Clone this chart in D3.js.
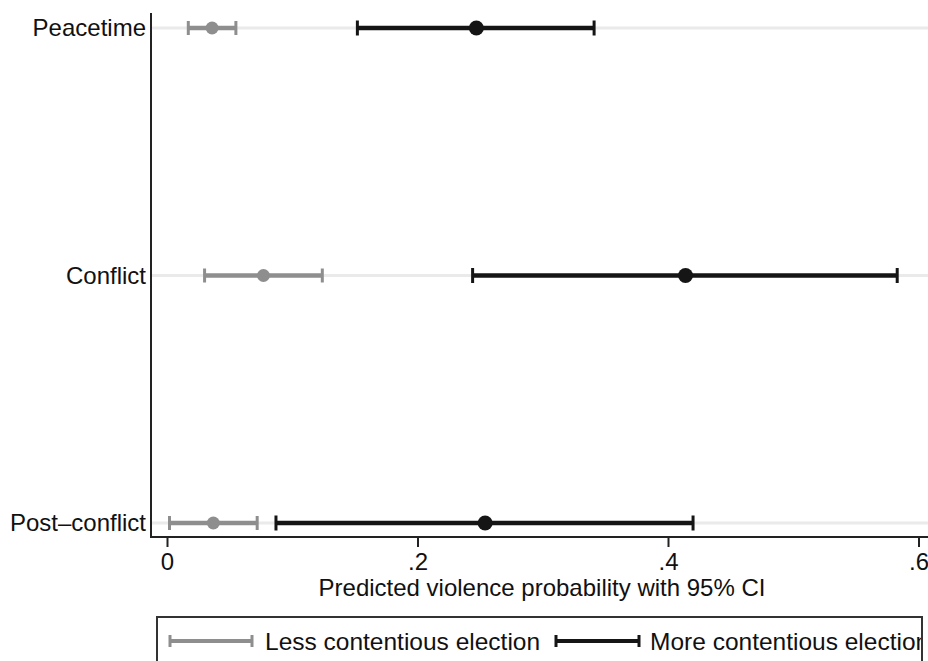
<!DOCTYPE html>
<html>
<head>
<meta charset="utf-8">
<script src="https://cdn.jsdelivr.net/npm/d3@7"></script>
<style>
  body { margin: 0; background: #fff; }
  text { font-family: "Liberation Sans", Arial, sans-serif; fill: #111; }
</style>
</head>
<body>
<div id="chart"></div>
<script>
// data
var categories = ["Peacetime", "Conflict", "Post\u2013conflict"];
var lessEst = [0.036, 0.077, 0.037];
var lessLo  = [0.017, 0.030, 0.002];
var lessHi  = [0.055, 0.124, 0.072];
var moreEst = [0.247, 0.414, 0.254];
var moreLo  = [0.152, 0.244, 0.087];
var moreHi  = [0.341, 0.583, 0.420];
var xTicks  = [0, 0.2, 0.4, 0.6];
var seriesNames = ["Less contentious election", "More contentious election"];

var width = 928, height = 661;
var plotLeft = 151, plotTop = 13, plotBottom = 537;

var svg = d3.select("#chart").append("svg")
    .attr("width", width)
    .attr("height", height);

// scales
var x = d3.scaleLinear().domain([0, 0.6]).range([167, 918.5]);
var y = d3.scalePoint().domain(categories).range([28, 523]);

// gridlines
svg.append("g").selectAll("line")
    .data(categories)
  .enter().append("line")
    .attr("x1", plotLeft).attr("x2", width)
    .attr("y1", function(d) { return y(d); })
    .attr("y2", function(d) { return y(d); })
    .attr("stroke", "#eaeaea")
    .attr("stroke-width", 3);

// build series
function makeSeries(est, lo, hi) {
  return categories.map(function(c, i) {
    return {cat: c, est: est[i], lo: lo[i], hi: hi[i]};
  });
}
var series = [
  {name: seriesNames[0], color: "#8e8e8e", r: 6.5, capH: 14, data: makeSeries(lessEst, lessLo, lessHi)},
  {name: seriesNames[1], color: "#151515", r: 7.5, capH: 15, data: makeSeries(moreEst, moreLo, moreHi)}
];

series.forEach(function(s) {
  var g = svg.append("g");
  g.selectAll(".bar").data(s.data).enter().append("line")
      .attr("x1", function(d) { return x(d.lo); })
      .attr("x2", function(d) { return x(d.hi); })
      .attr("y1", function(d) { return y(d.cat); })
      .attr("y2", function(d) { return y(d.cat); })
      .attr("stroke", s.color).attr("stroke-width", 4.5);
  ["lo", "hi"].forEach(function(k) {
    g.selectAll(".cap-" + k).data(s.data).enter().append("line")
        .attr("x1", function(d) { return x(d[k]); })
        .attr("x2", function(d) { return x(d[k]); })
        .attr("y1", function(d) { return y(d.cat) - s.capH / 2; })
        .attr("y2", function(d) { return y(d.cat) + s.capH / 2; })
        .attr("stroke", s.color).attr("stroke-width", 3);
  });
  g.selectAll("circle").data(s.data).enter().append("circle")
      .attr("cx", function(d) { return x(d.est); })
      .attr("cy", function(d) { return y(d.cat); })
      .attr("r", s.r)
      .attr("fill", s.color);
});

// axes
svg.append("line")
    .attr("x1", plotLeft).attr("x2", plotLeft)
    .attr("y1", plotTop).attr("y2", plotBottom + 1)
    .attr("stroke", "#222").attr("stroke-width", 2);
svg.append("line")
    .attr("x1", plotLeft - 1).attr("x2", width)
    .attr("y1", plotBottom).attr("y2", plotBottom)
    .attr("stroke", "#222").attr("stroke-width", 2);

var xAxis = svg.append("g")
    .attr("transform", "translate(0," + plotBottom + ")")
    .call(d3.axisBottom(x)
      .tickValues(xTicks)
      .tickSize(10)
      .tickPadding(6)
      .tickFormat(function(d) { return d === 0 ? "0" : d3.format(".1f")(d).replace(/^0/, ""); }));
xAxis.select(".domain").remove();
xAxis.selectAll(".tick line").attr("stroke", "#222").attr("stroke-width", 2);
xAxis.selectAll(".tick text")
    .style("font-size", "24px")
    .style("font-family", "Liberation Sans, Arial, sans-serif")
    .attr("fill", "#111");

var yAxis = svg.append("g")
    .attr("transform", "translate(" + (plotLeft - 5) + ",0)")
    .call(d3.axisLeft(y).tickSize(0).tickPadding(0));
yAxis.select(".domain").remove();
yAxis.selectAll(".tick text")
    .style("font-size", "24px")
    .style("font-family", "Liberation Sans, Arial, sans-serif")
    .attr("fill", "#111");

// axis title
svg.append("text")
    .attr("x", 542)
    .attr("y", 596)
    .attr("text-anchor", "middle")
    .style("font-size", "24px")
    .text("Predicted violence probability with 95% CI");

// legend (box runs off the bottom, text is cut by its right edge)
var boxLeft = 157, boxTop = 617, boxRight = 922;
svg.append("defs").append("clipPath")
    .attr("id", "legend-clip")
  .append("rect")
    .attr("x", boxLeft).attr("y", boxTop)
    .attr("width", boxRight - boxLeft).attr("height", 80);

var legend = svg.append("g");
var legendItems = legend.append("g").attr("clip-path", "url(#legend-clip)");
legend.append("rect")
    .attr("x", boxLeft).attr("y", boxTop)
    .attr("width", boxRight - boxLeft).attr("height", 80)
    .attr("fill", "none")
    .attr("stroke", "#333").attr("stroke-width", 2);

var legendX = [[170, 252, 265], [556, 639, 650]];
series.forEach(function(s, i) {
  var lx = legendX[i], ly = 641;
  legendItems.append("line")
      .attr("x1", lx[0]).attr("x2", lx[1]).attr("y1", ly).attr("y2", ly)
      .attr("stroke", s.color).attr("stroke-width", 4);
  [lx[0], lx[1]].forEach(function(cx) {
    legendItems.append("line")
        .attr("x1", cx).attr("x2", cx).attr("y1", ly - 6).attr("y2", ly + 6)
        .attr("stroke", s.color).attr("stroke-width", 3);
  });
  legendItems.append("text")
      .attr("x", lx[2]).attr("y", ly + 9)
      .style("font-size", "24.5px")
      .text(s.name);
});
</script>
</body>
</html>
